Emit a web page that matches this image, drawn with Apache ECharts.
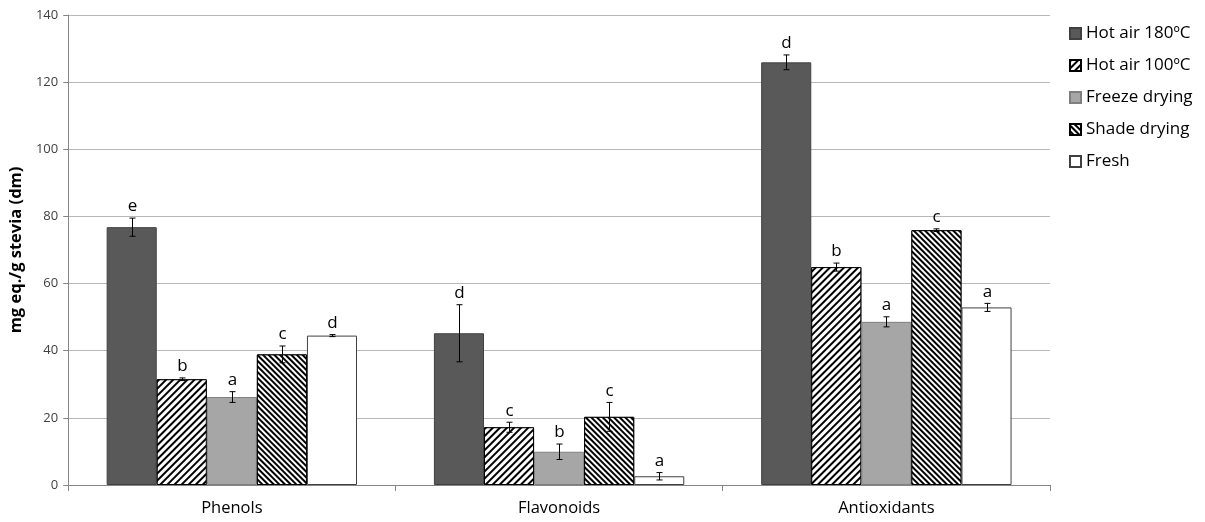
<!DOCTYPE html>
<html>
<head>
<meta charset="utf-8">
<script src="https://cdn.jsdelivr.net/npm/echarts@6/dist/echarts.min.js"></script>
<style>
  html, body { margin: 0; padding: 0; background: #fff; }
  #chart { width: 1205px; height: 522px; }
</style>
</head>
<body>
<div id="chart"></div>
<script>
var categories = ['Phenols', 'Flavonoids', 'Antioxidants']
var seriesNames = ['Hot air 180ºC', 'Hot air 100ºC', 'Freeze drying', 'Shade drying', 'Fresh']

var hotAir180 = [76.8, 45.2, 125.9]
var hotAir100 = [31.5, 17.2, 64.9]
var freezeDrying = [26.2, 9.9, 48.6]
var shadeDrying = [38.9, 20.3, 75.9]
var fresh = [44.5, 2.6, 52.9]

var errHotAir180 = [2.7, 8.5, 2.2]
var errHotAir100 = [0.4, 1.5, 1.2]
var errFreezeDrying = [1.6, 2.3, 1.5]
var errShadeDrying = [2.5, 4.3, 0.4]
var errFresh = [0.3, 1.1, 1.2]

var lettersHotAir180 = ['e', 'd', 'd']
var lettersHotAir100 = ['b', 'c', 'b']
var lettersFreezeDrying = ['a', 'b', 'a']
var lettersShadeDrying = ['c', 'c', 'c']
var lettersFresh = ['d', 'a', 'a']

var values = [hotAir180, hotAir100, freezeDrying, shadeDrying, fresh]
var errors = [errHotAir180, errHotAir100, errFreezeDrying, errShadeDrying, errFresh]
var letters = [lettersHotAir180, lettersHotAir100, lettersFreezeDrying, lettersShadeDrying, lettersFresh]

var gapRatio = 0.235

var styles = [
  { color: '#595959', borderColor: '#404040', borderWidth: 1 },
  {
    color: '#ffffff', borderColor: '#000000', borderWidth: 1,
    decal: { symbol: 'rect', symbolSize: 1, dashArrayX: [1, 0], dashArrayY: [1.6, 2.6], rotation: -Math.PI / 4, color: '#000000', backgroundColor: '#ffffff' }
  },
  { color: '#a6a6a6', borderColor: '#7f7f7f', borderWidth: 1 },
  {
    color: '#ffffff', borderColor: '#000000', borderWidth: 1,
    decal: { symbol: 'rect', symbolSize: 1, dashArrayX: [1, 0], dashArrayY: [1.3, 1.6], rotation: Math.PI / 4, color: '#000000', backgroundColor: '#ffffff' }
  },
  { color: '#ffffff', borderColor: '#404040', borderWidth: 1 }
]

var errData = []
for (var s = 0; s < values.length; s++) {
  for (var c = 0; c < categories.length; c++) {
    errData.push([c, s, values[s][c], errors[s][c]])
  }
}

function renderErr(params, api) {
  var cat = api.value(0)
  var s = api.value(1)
  var val = api.value(2)
  var err = api.value(3)
  var band = api.size([1, 0])[0]
  var bw = band * (1 - gapRatio) / values.length
  var center = api.coord([cat, 0])[0]
  var x = Math.round(center - bw * values.length / 2 + (s + 0.5) * bw) + 0.5
  var yTop = api.coord([cat, val + err])[1]
  var yBot = api.coord([cat, val - err])[1]
  var st = { stroke: '#000000', lineWidth: 1 }
  return {
    type: 'group',
    children: [
      { type: 'line', shape: { x1: x, y1: yTop, x2: x, y2: yBot }, style: st },
      { type: 'line', shape: { x1: x - 3, y1: yTop, x2: x + 3, y2: yTop }, style: st },
      { type: 'line', shape: { x1: x - 3, y1: yBot, x2: x + 3, y2: yBot }, style: st },
      {
        type: 'text',
        style: {
          x: x, y: yTop - 3, text: letters[s][cat],
          align: 'center', verticalAlign: 'bottom',
          fill: '#000000', font: '17px "Open Sans", sans-serif'
        }
      }
    ]
  }
}

var series = values.map(function (v, i) {
  return {
    name: seriesNames[i],
    type: 'bar',
    data: v,
    barGap: '0%',
    barCategoryGap: (gapRatio * 100) + '%',
    itemStyle: styles[i]
  }
})
series.push({
  type: 'custom',
  name: 'errors',
  renderItem: renderErr,
  data: errData,
  encode: { x: 0, y: 2 },
  z: 10,
  silent: true
})

var myChart = echarts.init(document.getElementById('chart'))

myChart.setOption({
  animation: false,
  grid: { left: 68, top: 15, right: 155, bottom: 37 },
  legend: {
    data: seriesNames,
    orient: 'vertical',
    left: 1064,
    top: 20,
    itemWidth: 11,
    itemHeight: 11,
    itemGap: 15,
    icon: 'rect',
    textStyle: { fontSize: 17, color: '#000000', fontFamily: '"Open Sans", sans-serif' }
  },
  xAxis: {
    type: 'category',
    data: categories,
    axisLine: { lineStyle: { color: '#868686' } },
    axisTick: { show: true, length: 6, lineStyle: { color: '#868686' } },
    axisLabel: { fontSize: 16.5, color: '#000000', margin: 15, fontFamily: '"Open Sans", sans-serif' }
  },
  yAxis: {
    type: 'value',
    min: 0,
    max: 140,
    interval: 20,
    name: 'mg eq./g stevia (dm)',
    nameLocation: 'middle',
    nameGap: 38,
    nameTextStyle: { fontSize: 16.5, fontWeight: 'bold', color: '#000000', fontFamily: '"Open Sans", sans-serif' },
    axisLine: { show: true, lineStyle: { color: '#868686' } },
    axisTick: { show: true, length: 5, lineStyle: { color: '#868686' } },
    axisLabel: { fontSize: 13, color: '#404040', margin: 10, fontFamily: '"Open Sans", sans-serif' },
    splitLine: { lineStyle: { color: '#b8b8b8' } }
  },
  series: series
})
</script>
</body>
</html>
